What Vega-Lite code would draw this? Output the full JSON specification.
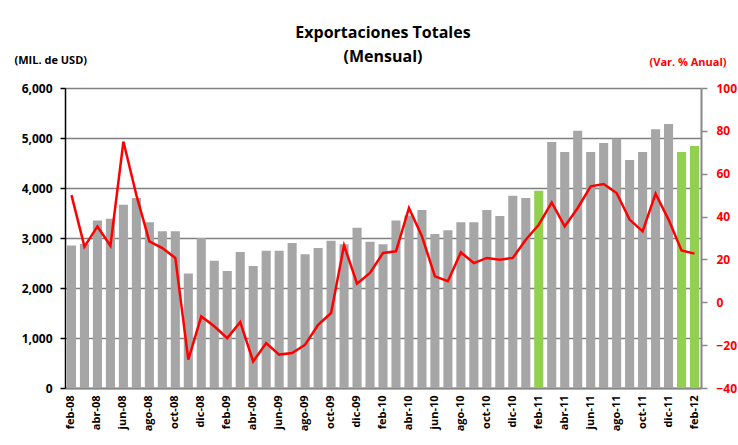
{
  "$schema": "https://vega.github.io/schema/vega-lite/v6.json",
  "width": 636,
  "height": 300,
  "autosize": {"type": "none"},
  "padding": {"left": 65, "top": 88, "right": 37, "bottom": 57},
  "background": "white",
  "title": {
    "text": ["Exportaciones Totales", "(Mensual)"],
    "font": "Open Sans",
    "fontSize": 16,
    "fontWeight": "bold",
    "lineHeight": 24,
    "anchor": "middle",
    "offset": -11,
    "color": "black"
  },
  "config": {
    "view": {"stroke": null},
    "axis": {"labelFont": "Open Sans", "titleFont": "Open Sans"}
  },
  "data": {
    "values": [
      {"mes": "feb-08", "exp": 2850, "var": 50, "grupo": "normal"},
      {"mes": "mar-08", "exp": 2880, "var": 26, "grupo": "normal"},
      {"mes": "abr-08", "exp": 3350, "var": 35.4, "grupo": "normal"},
      {"mes": "may-08", "exp": 3385, "var": 26.4, "grupo": "normal"},
      {"mes": "jun-08", "exp": 3665, "var": 75, "grupo": "normal"},
      {"mes": "jul-08", "exp": 3800, "var": 50, "grupo": "normal"},
      {"mes": "ago-08", "exp": 3315, "var": 28.4, "grupo": "normal"},
      {"mes": "sep-08", "exp": 3135, "var": 25.3, "grupo": "normal"},
      {"mes": "oct-08", "exp": 3135, "var": 20.7, "grupo": "normal"},
      {"mes": "nov-08", "exp": 2290, "var": -26.8, "grupo": "normal"},
      {"mes": "dic-08", "exp": 3000, "var": -6.6, "grupo": "normal"},
      {"mes": "ene-09", "exp": 2545, "var": -11.2, "grupo": "normal"},
      {"mes": "feb-09", "exp": 2340, "var": -16.7, "grupo": "normal"},
      {"mes": "mar-09", "exp": 2720, "var": -9.2, "grupo": "normal"},
      {"mes": "abr-09", "exp": 2440, "var": -27.6, "grupo": "normal"},
      {"mes": "may-09", "exp": 2745, "var": -19, "grupo": "normal"},
      {"mes": "jun-09", "exp": 2745, "var": -24.4, "grupo": "normal"},
      {"mes": "jul-09", "exp": 2900, "var": -23.7, "grupo": "normal"},
      {"mes": "ago-09", "exp": 2675, "var": -19.8, "grupo": "normal"},
      {"mes": "sep-09", "exp": 2800, "var": -10.5, "grupo": "normal"},
      {"mes": "oct-09", "exp": 2945, "var": -5, "grupo": "normal"},
      {"mes": "nov-09", "exp": 2875, "var": 26.6, "grupo": "normal"},
      {"mes": "dic-09", "exp": 3205, "var": 8.7, "grupo": "normal"},
      {"mes": "ene-10", "exp": 2925, "var": 13.7, "grupo": "normal"},
      {"mes": "feb-10", "exp": 2875, "var": 23, "grupo": "normal"},
      {"mes": "mar-10", "exp": 3350, "var": 23.8, "grupo": "normal"},
      {"mes": "abr-10", "exp": 3450, "var": 44, "grupo": "normal"},
      {"mes": "may-10", "exp": 3560, "var": 30.8, "grupo": "normal"},
      {"mes": "jun-10", "exp": 3080, "var": 12.1, "grupo": "normal"},
      {"mes": "jul-10", "exp": 3155, "var": 9.8, "grupo": "normal"},
      {"mes": "ago-10", "exp": 3315, "var": 23.3, "grupo": "normal"},
      {"mes": "sep-10", "exp": 3315, "var": 18.3, "grupo": "normal"},
      {"mes": "oct-10", "exp": 3560, "var": 20.7, "grupo": "normal"},
      {"mes": "nov-10", "exp": 3440, "var": 19.9, "grupo": "normal"},
      {"mes": "dic-10", "exp": 3845, "var": 20.7, "grupo": "normal"},
      {"mes": "ene-11", "exp": 3800, "var": 29.2, "grupo": "normal"},
      {"mes": "feb-11", "exp": 3945, "var": 36.2, "grupo": "destacado"},
      {"mes": "mar-11", "exp": 4920, "var": 46.6, "grupo": "normal"},
      {"mes": "abr-11", "exp": 4720, "var": 35.4, "grupo": "normal"},
      {"mes": "may-11", "exp": 5145, "var": 44, "grupo": "normal"},
      {"mes": "jun-11", "exp": 4720, "var": 54.1, "grupo": "normal"},
      {"mes": "jul-11", "exp": 4900, "var": 55.2, "grupo": "normal"},
      {"mes": "ago-11", "exp": 4985, "var": 51, "grupo": "normal"},
      {"mes": "sep-11", "exp": 4560, "var": 38.6, "grupo": "normal"},
      {"mes": "oct-11", "exp": 4720, "var": 33.1, "grupo": "normal"},
      {"mes": "nov-11", "exp": 5175, "var": 50.7, "grupo": "normal"},
      {"mes": "dic-11", "exp": 5280, "var": 38.6, "grupo": "normal"},
      {"mes": "ene-12", "exp": 4720, "var": 24.2, "grupo": "destacado"},
      {"mes": "feb-12", "exp": 4840, "var": 22.7, "grupo": "destacado"}
    ]
  },
  "encoding": {
    "x": {
      "field": "mes",
      "type": "ordinal",
      "sort": null,
      "scale": {"paddingInner": 0.3, "paddingOuter": 0.15},
      "axis": {
        "title": null,
        "labelAngle": -90,
        "labelFontSize": 11,
        "labelFontWeight": "bold",
        "labelColor": "black",
        "labelPadding": 7,
        "ticks": false,
        "domainColor": "#888888",
        "domainWidth": 2,
        "grid": false,
        "values": ["feb-08","abr-08","jun-08","ago-08","oct-08","dic-08","feb-09","abr-09","jun-09","ago-09","oct-09","dic-09","feb-10","abr-10","jun-10","ago-10","oct-10","dic-10","feb-11","abr-11","jun-11","ago-11","oct-11","dic-11","feb-12"]
      }
    }
  },
  "layer": [
    {
      "mark": {"type": "bar"},
      "encoding": {
        "y": {
          "field": "exp",
          "type": "quantitative",
          "scale": {"domain": [0, 6000], "nice": false},
          "axis": {
            "values": [0, 1000, 2000, 3000, 4000, 5000, 6000],
            "format": ",.0f",
            "labelFontSize": 12,
            "labelFontWeight": "bold",
            "labelColor": "black",
            "labelPadding": 8,
            "domainColor": "black",
            "domainWidth": 1.5,
            "tickColor": "black",
            "tickSize": 5,
            "tickWidth": 1.5,
            "grid": true,
            "gridColor": "#808080",
            "gridWidth": 1.5,
            "title": "(MIL. de USD)",
            "titleAngle": 0,
            "titleAlign": "left",
            "titleBaseline": "middle",
            "titleX": -51,
            "titleY": -28,
            "titleFontSize": 11,
            "titleFontWeight": "bold",
            "titleColor": "black"
          }
        },
        "color": {
          "field": "grupo",
          "type": "nominal",
          "scale": {"domain": ["normal", "destacado"], "range": ["#a6a6a6", "#92d050"]},
          "legend": null
        }
      }
    },
    {
      "mark": {"type": "line", "color": "#ff0000", "strokeWidth": 2.5},
      "encoding": {
        "y": {
          "field": "var",
          "type": "quantitative",
          "scale": {"domain": [-40, 100], "nice": false},
          "axis": {
            "orient": "right",
            "values": [-40, -20, 0, 20, 40, 60, 80, 100],
            "labelFontSize": 12,
            "labelFontWeight": "bold",
            "labelColor": "#ff0000",
            "labelPadding": 9,
            "domainColor": "#888888",
            "domainWidth": 2,
            "tickColor": "#888888",
            "tickSize": 6,
            "tickWidth": 1.5,
            "grid": false,
            "title": "(Var. % Anual)",
            "titleAngle": 0,
            "titleAlign": "left",
            "titleBaseline": "middle",
            "titleX": -52,
            "titleY": -26,
            "titleFontSize": 11,
            "titleFontWeight": "bold",
            "titleColor": "#ff0000"
          }
        }
      }
    }
  ],
  "resolve": {"scale": {"y": "independent"}}
}
